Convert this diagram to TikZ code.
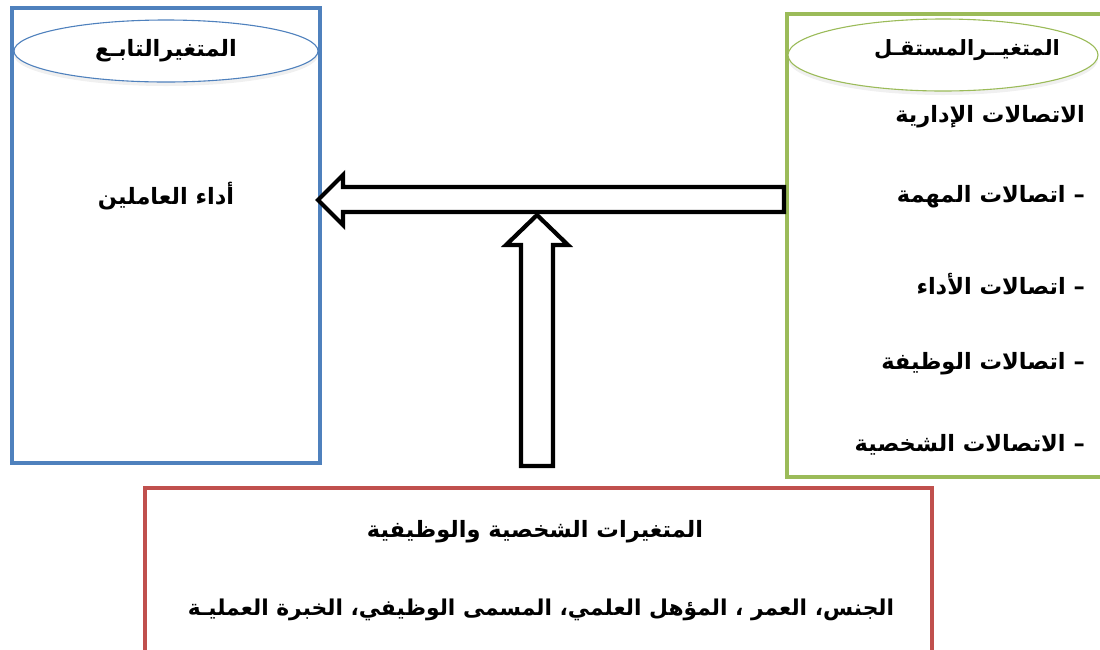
\documentclass[tikz,border=0pt]{standalone}
\usepackage{fontspec}
\TeXXeTstate=1
\newfontfamily\arabicfont[Script=Arabic]{DejaVu Sans}
\usetikzlibrary{shapes.geometric,shadows}
\definecolor{blueC}{RGB}{79,129,189}
\definecolor{greenC}{RGB}{155,187,89}
\definecolor{redC}{RGB}{192,80,77}
\tikzset{
  box/.style={draw, line width=4pt, rectangle, inner sep=0pt},
  oval/.style={ellipse, draw, line width=1.1pt, fill=white, inner sep=0pt,
     drop shadow={opacity=0.12, shadow xshift=0pt, shadow yshift=-4pt}},
  txt/.style={font=\arabicfont\bfseries\fontsize{22.5}{26}\selectfont, inner sep=0pt},
  blockarrow/.style={draw=black, line width=4.2pt, fill=white, line join=miter}
}
\begin{document}
\begin{tikzpicture}[x=1pt,y=-1pt]
\useasboundingbox (0,0) rectangle (1100,649);
% boxes
\node[box, draw=blueC, minimum width=308pt, minimum height=455pt] (dep) at (166,235.5) {};
\node[box, draw=greenC, minimum width=323pt, minimum height=463pt] (indep) at (948.5,245.5) {};
\node[box, draw=redC, minimum width=787pt, minimum height=172pt] (ctrl) at (538.5,574) {};
% ellipses
\node[oval, draw=blueC, minimum width=304pt, minimum height=62pt] (depT) at (166,51) {};
\node[txt] at (depT) {\beginR المتغيرالتابـع\endR};
\node[oval, draw=greenC, minimum width=310pt, minimum height=72pt] (indepT) at (943,55) {};
\node[txt, font=\arabicfont\bfseries\fontsize{21}{25}\selectfont] (indepL) at (967,50) {\beginR المتغيــرالمستقـل\endR};
% texts
\node[txt] (perf) at (166,196) {\beginR أداء العاملين\endR};
\node[txt, anchor=east] (i0) at (1085,117) {\beginR الاتصالات الإدارية\endR};
\node[txt, anchor=east] (i1) at (1085,197) {\beginR – اتصالات المهمة\endR};
\node[txt, anchor=east] (i2) at (1085,284) {\beginR – اتصالات الأداء\endR};
\node[txt, anchor=east] (i3) at (1085,364) {\beginR – اتصالات الوظيفة\endR};
\node[txt, anchor=east] (i4) at (1085,445) {\beginR – الاتصالات الشخصية\endR};
\node[txt] (c0) at (535,532) {\beginR المتغيرات الشخصية والوظيفية\endR};
\node[txt, font=\arabicfont\bfseries\fontsize{21.8}{26}\selectfont] (c1) at (541,610) {\beginR الجنس، العمر ، المؤهل العلمي، المسمى الوظيفي، الخبرة العمليـة\endR};
% arrows
\draw[blockarrow] (784,187) -- (343,187) -- (343,175) -- (318,200) -- (343,225) -- (343,212) -- (784,212) -- cycle;
\draw[blockarrow] (521,466) -- (521,245) -- (506,245) -- (537,215) -- (568,245) -- (553,245) -- (553,466) -- cycle;
\end{tikzpicture}
\end{document}
